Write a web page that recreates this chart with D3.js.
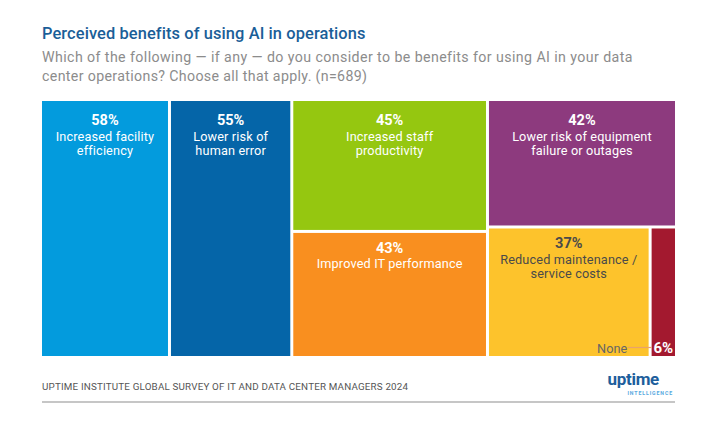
<!DOCTYPE html>
<html>
<head>
<meta charset="utf-8">
<script src="https://cdn.jsdelivr.net/npm/d3@7"></script>
<style>
  html, body { margin: 0; padding: 0; background: #ffffff; }
  svg { display: block; font-family: Roboto, "Open Sans", sans-serif; }
</style>
</head>
<body>
<svg id="chart" width="714" height="422"></svg>
<script>
// ---- data ----
const categories = [
  ["Increased facility", "efficiency"],
  ["Lower risk of", "human error"],
  ["Increased staff", "productivity"],
  ["Improved IT performance"],
  ["Lower risk of equipment", "failure or outages"],
  ["Reduced maintenance /", "service costs"],
  ["None"]
];
const values = [58, 55, 45, 43, 42, 37, 6];
const columnIndex = [0, 1, 2, 2, 3, 3, 3];
const rowIndex    = [0, 0, 0, 1, 0, 1, 1];
const title = "Perceived benefits of using AI in operations";
const subtitleLines = [
  "Which of the following \u2014 if any \u2014 do you consider to be benefits for using AI in your data",
  "center operations? Choose all that apply. (n=689)"
];
const sourceText = "UPTIME INSTITUTE GLOBAL SURVEY OF IT AND DATA CENTER MANAGERS 2024";

// ---- styles ----
const fills = ["#039bdd", "#0565a8", "#95c710", "#f98f1f", "#8d3a7e", "#fdc32c", "#a3192f"];
const textFills = ["#ffffff", "#ffffff", "#ffffff", "#ffffff", "#ffffff", "#4a4a4a", "#ffffff"];

const svg = d3.select("#chart");

// stretch a text to a target width with letter spacing
function fit(sel, target) {
  const node = sel.node();
  const w = node.getComputedTextLength();
  const n = node.textContent.length;
  if (n > 1) sel.attr("letter-spacing", ((target - w) / (n - 1)).toFixed(3));
  return sel;
}

// header
fit(svg.append("text").attr("x", 42).attr("y", 39)
  .attr("font-size", 16.4).attr("font-weight", 500).attr("fill", "#1a5e98")
  .text(title), 323);
const subTargets = [590, 325];
subtitleLines.forEach((l, i) => {
  fit(svg.append("text").attr("x", 42).attr("y", 62 + i * 18.5)
    .attr("font-size", 14.2).attr("fill", "#8c8c8c").text(l), subTargets[i]);
});

// hierarchy: root -> columns -> rows -> items
const items = values.map((v, i) => ({ value: v, label: categories[i], col: columnIndex[i], row: rowIndex[i], idx: i }));
const cols = d3.groups(items, d => d.col).map(([c, arr]) => ({
  name: "col" + c,
  children: d3.groups(arr, d => d.row).map(([r, a]) => ({ name: "row" + r, children: a }))
}));
const root = d3.hierarchy({ name: "root", children: cols })
  .sum(d => d.children ? 0 : d.value);

d3.treemap()
  .tile(d3.treemapSliceDice)
  .size([633, 255])
  .paddingInner(3)
  .round(false)(root);

const g = svg.append("g").attr("transform", "translate(42,101)");
const leaves = g.selectAll("g.leaf").data(root.leaves()).join("g").attr("class", "leaf");

leaves.append("rect")
  .attr("x", d => d.x0).attr("y", d => d.y0)
  .attr("width", d => d.x1 - d.x0).attr("height", d => d.y1 - d.y0)
  .attr("fill", d => fills[d.data.idx]);

leaves.each(function(d) {
  const sel = d3.select(this);
  const w = d.x1 - d.x0;
  const cx = (d.x0 + d.x1) / 2;
  const col = textFills[d.data.idx];
  if (w > 60) {
    const top = d.y0 > 1 ? 20 : 24;
    sel.append("text").attr("x", cx).attr("y", d.y0 + top)
      .attr("text-anchor", "middle").attr("font-size", 14.5).attr("font-weight", 700)
      .attr("fill", col).text(d.data.value + "%");
    d.data.label.forEach((line, i) => {
      sel.append("text").attr("x", cx).attr("y", d.y0 + top + 15.5 + i * 14.5)
        .attr("text-anchor", "middle").attr("font-size", 12.7).attr("letter-spacing", 0.15)
        .attr("fill", col).text(line);
    });
  } else {
    const by = d.y1 - 3.5;
    sel.append("text").attr("x", cx).attr("y", by)
      .attr("text-anchor", "middle").attr("font-size", 15).attr("font-weight", 700)
      .attr("fill", col).text(d.data.value + "%");
    sel.append("line").attr("x1", d.x0 - 24).attr("x2", d.x0)
      .attr("y1", by - 5).attr("y2", by - 5)
      .attr("stroke", "#e9a36a").attr("stroke-width", 1.2);
    sel.append("text").attr("x", d.x0 - 24.5).attr("y", by)
      .attr("text-anchor", "end").attr("font-size", 12.7)
      .attr("fill", "#666666").text(d.data.label[0]);
  }
});

// footer
fit(svg.append("text").attr("x", 42).attr("y", 390)
  .attr("font-size", 9.8).attr("fill", "#555555")
  .text(sourceText), 366);
svg.append("line").attr("x1", 42).attr("x2", 675).attr("y1", 402).attr("y2", 402)
  .attr("stroke", "#b3b3b3").attr("stroke-width", 1.5);
svg.append("text").attr("x", 659).attr("y", 385)
  .attr("text-anchor", "end").attr("font-size", 17).attr("font-weight", 700)
  .attr("fill", "#1d5e9c").attr("letter-spacing", -0.3).text("uptime");
svg.append("text").attr("x", 673).attr("y", 394.5)
  .attr("text-anchor", "end").attr("font-size", 5.2).attr("font-weight", 700)
  .attr("fill", "#56a8e0").attr("letter-spacing", 0.9).text("INTELLIGENCE");
</script>
</body>
</html>
